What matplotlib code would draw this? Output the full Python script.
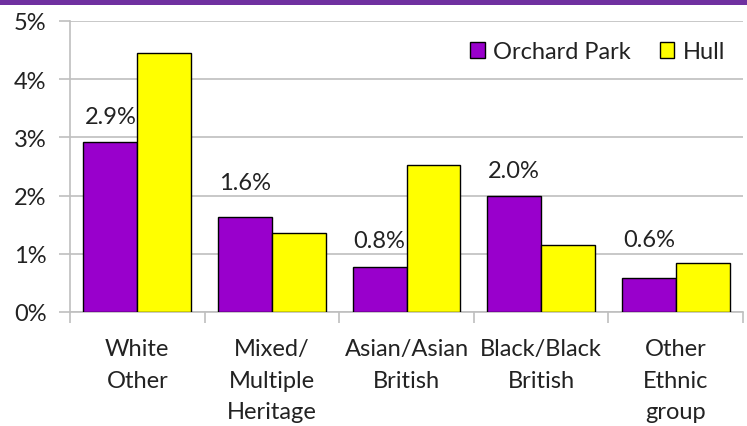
import matplotlib.pyplot as plt
import numpy as np
from matplotlib.patches import Rectangle

# Ethnic group shares (%)
categories = ['White\nOther', 'Mixed/\nMultiple\nHeritage', 'Asian/Asian\nBritish',
              'Black/Black\nBritish', 'Other\nEthnic\ngroup']
orchard_park = [2.92, 1.63, 0.78, 1.99, 0.58]
hull = [4.45, 1.36, 2.53, 1.15, 0.84]
labels = ['2.9%', '1.6%', '0.8%', '2.0%', '0.6%']
label_offsets = [14, 20, 14, 14, 23]  # points from bar top to label baseline

PURPLE = '#9900CC'
YELLOW = '#FFFF00'
GRID = '#BFBFBF'
TEXT = '#222222'
FS = 17

plt.rcParams['font.family'] = ['Lato', 'DejaVu Sans']
plt.rcParams['text.color'] = TEXT
plt.rcParams['xtick.labelcolor'] = TEXT
plt.rcParams['ytick.labelcolor'] = TEXT

fig = plt.figure(figsize=(7.47, 4.27), dpi=100)
ax = fig.add_axes([0.0937, 0.267, 0.901, 0.6815])

# purple band across the top
fig.patches.append(Rectangle((0, 1 - 6 / 427), 1, 6 / 427, transform=fig.transFigure,
                             facecolor='#7030A0', edgecolor='none'))

x = np.arange(len(categories))
w = 0.4
ax.bar(x - w / 2, orchard_park, w, color=PURPLE, edgecolor='black', linewidth=1,
       label='Orchard Park', zorder=3)
ax.bar(x + w / 2, hull, w, color=YELLOW, edgecolor='black', linewidth=1,
       label='Hull', zorder=3)

for xi, v, lab, off in zip(x, orchard_park, labels, label_offsets):
    ax.annotate(lab, (xi - w / 2, v), xytext=(0, off), textcoords='offset points',
                ha='center', va='baseline', fontsize=FS)

ax.set_xlim(-0.5, len(categories) - 0.5)
ax.set_ylim(0, 5)
ax.set_yticks(np.arange(0, 6))
ax.set_yticklabels([f'{i}%' for i in range(6)], fontsize=FS)
ax.yaxis.grid(True, color=GRID, linewidth=1.2, zorder=0)

# category labels between boundary ticks
ax.set_xticks(np.arange(-0.5, len(categories)), minor=False)
ax.set_xticklabels([])
ax.set_xticks(x, minor=True)
ax.set_xticklabels(categories, minor=True, fontsize=FS, linespacing=1.62, va='top')
ax.tick_params(axis='x', which='minor', length=0, pad=19)
ax.tick_params(axis='x', which='major', length=8, color=GRID, width=1.2)
ax.tick_params(axis='y', length=8, color=GRID, width=1.2, pad=9)

for side in ['top', 'right']:
    ax.spines[side].set_visible(False)
for side in ['left', 'bottom']:
    ax.spines[side].set_color(GRID)
    ax.spines[side].set_linewidth(1.2)

ax.legend(loc='upper right', frameon=False, fontsize=FS, handlelength=0.63,
          handleheight=0.63, handletextpad=0.34, columnspacing=1.23, ncol=2,
          borderpad=0, borderaxespad=0, bbox_to_anchor=(0.973, 0.93))

fig.savefig('out.png', dpi=100)
